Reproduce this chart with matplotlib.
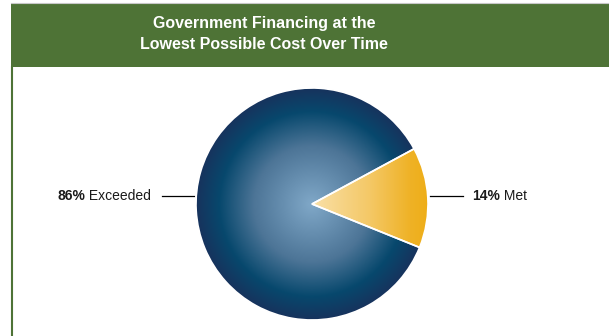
import numpy as np
import matplotlib
matplotlib.use("Agg")
import matplotlib.pyplot as plt
from matplotlib.colors import LinearSegmentedColormap
from matplotlib.patches import Rectangle

title = "Government Financing at the\nLowest Possible Cost Over Time"
labels = ["Met", "Exceeded"]
values = [14, 86]
label_text = ["14%", "86%"]

green = "#4e7336"
blue_cmap = LinearSegmentedColormap.from_list(
    "blue", [(0.0, "#80a8c8"), (0.5, "#4d7597"), (0.8, "#07486d"), (1.0, "#17335d")])
gold_cmap = LinearSegmentedColormap.from_list(
    "gold", [(0.0, "#f9e0a8"), (0.5, "#f4c866"), (0.85, "#efb226"), (1.0, "#eeae18")])

W, H = 609, 336
fig = plt.figure(figsize=(W / 100, H / 100), dpi=100)
ax = fig.add_axes([0, 0, 1, 1])

# header band and left rule
ax.add_patch(Rectangle((11, H - 67), W - 11, 64, facecolor=green, edgecolor="none"))
ax.plot([11.5, 11.5], [0, H - 67], color=green, lw=1.5)
ax.plot([11, W], [H - 2.5, H - 2.5], color="#c8c8c8", lw=0.8)
ax.text(264, H - 34, title, color="white", ha="center", va="center",
        fontsize=11.5, fontweight="bold", family=["Liberation Sans", "DejaVu Sans"],
        linespacing=1.45)

cx, cy, r = 312, H - 204, 116
wedges, _ = ax.pie(values, center=(cx, cy), radius=r, startangle=-22,
                   counterclock=True, frame=True,
                   wedgeprops=dict(facecolor="none", edgecolor="white", linewidth=1.2))
for w in wedges:
    w.set_zorder(3)

# gradient fills clipped to each wedge
n = 400
xs = np.linspace(cx - r, cx + r, n)
ys = np.linspace(cy - r, cy + r, n)
X, Y = np.meshgrid(xs, ys)
rad = np.hypot(X - cx, Y - cy) / r
im = ax.imshow(rad, cmap=blue_cmap, vmin=0, vmax=1, origin="lower",
               extent=(cx - r, cx + r, cy - r, cy + r), zorder=2, interpolation="bilinear")
im.set_clip_path(wedges[1])
lin = np.clip((X - cx) / r, 0, 1)
im2 = ax.imshow(lin, cmap=gold_cmap, vmin=0, vmax=1, origin="lower",
                extent=(cx - r, cx + r, cy - r, cy + r), zorder=2, interpolation="bilinear")
im2.set_clip_path(wedges[0])

# leader lines and labels
ly = H - 196
dx = np.sqrt(r ** 2 - (ly - cy) ** 2)
font = ["Liberation Sans Narrow", "Liberation Sans", "DejaVu Sans"]
fs = 10
ax.plot([cx + dx + 2, cx + dx + 35], [ly, ly], color="black", lw=0.9)
ax.plot([cx - dx - 34, cx - dx - 2], [ly, ly], color="black", lw=0.9)

t = ax.text(472, ly, label_text[0], ha="left", va="center", fontsize=fs,
            fontweight="bold", family=font, color="#1a1a1a")
ax.annotate(" " + labels[0], xy=(1, 0.5), xycoords=t, ha="left", va="center",
            fontsize=fs, family=font, color="#1a1a1a")
t2 = ax.text(151, ly, " " + labels[1], ha="right", va="center", fontsize=fs,
             family=font, color="#1a1a1a")
ax.annotate(label_text[1], xy=(0, 0.5), xycoords=t2, ha="right", va="center",
            fontsize=fs, fontweight="bold", family=font, color="#1a1a1a")

ax.set_xlim(0, W)
ax.set_ylim(0, H)
ax.set_aspect("auto")
ax.axis("off")

fig.savefig("out.png", dpi=100)
